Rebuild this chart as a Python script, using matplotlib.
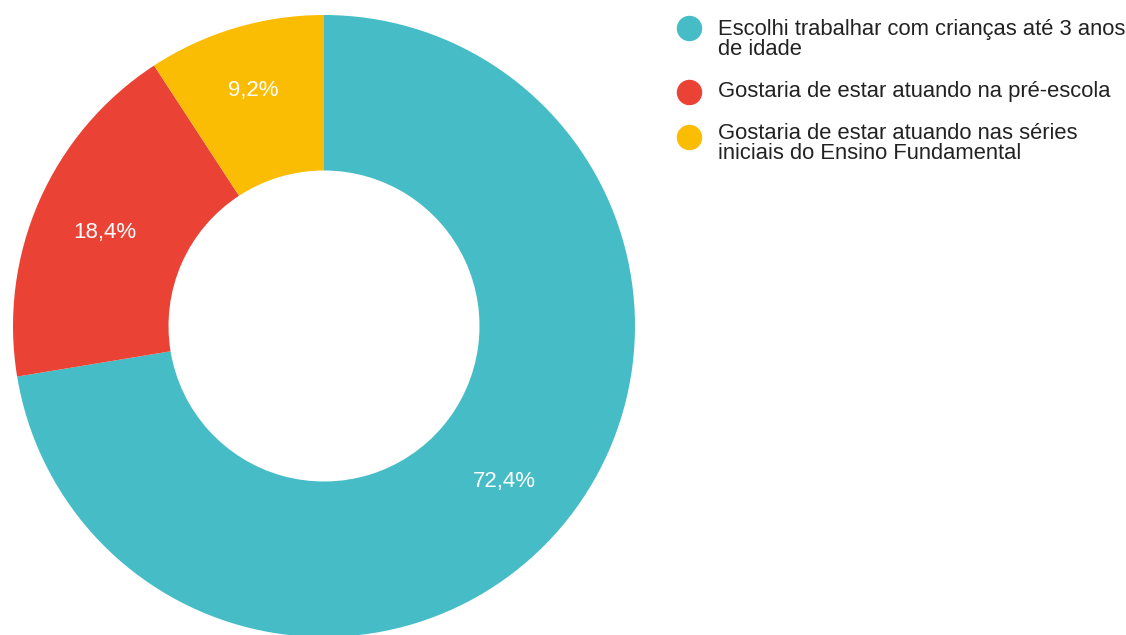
import matplotlib
matplotlib.use("Agg")
import numpy as np
import matplotlib.pyplot as plt

plt.rcParams['font.family'] = ['Liberation Sans', 'DejaVu Sans']

labels = [
    "Escolhi trabalhar com crianças até 3 anos\nde idade",
    "Gostaria de estar atuando na pré-escola",
    "Gostaria de estar atuando nas séries\niniciais do Ensino Fundamental",
]
values = [72.4, 18.4, 9.2]
colors = ["#46BDC6", "#EA4335", "#FBBC04"]

W, H = 1126, 635
fig = plt.figure(figsize=(W / 100, H / 100), dpi=100)
ax = fig.add_axes([0, 0, 1, 1])

# donut in pixel-like data units (y grows upward)
cx, cy, R = 324, H - 326, 311
wedges, texts, autotexts = ax.pie(
    values,
    colors=colors,
    startangle=90,
    counterclock=False,
    radius=R,
    center=(cx, cy),
    autopct=lambda p: f"{p:.1f}%".replace(".", ","),
    pctdistance=0.765,
    wedgeprops=dict(width=R * 0.5, edgecolor="none"),
    textprops=dict(color="white", fontsize=16),
    frame=True,
)
# the narrow slice gets its label pushed a little further out
label_dist = [0.76, 0.77, 0.80]
for w, t, d in zip(wedges, autotexts, label_dist):
    ang = np.deg2rad((w.theta1 + w.theta2) / 2)
    t.set_position((cx + d * R * np.cos(ang), cy + d * R * np.sin(ang) - 3))

ax.set_xlim(0, W)
ax.set_ylim(0, H)
ax.axis("off")

# legend (text anchored on the baseline of each entry's last line)
marker_x, text_x = 689, 718
rows_y = [28, 92, 137]
baselines = [55, 97, 159]
for lab, col, y, b in zip(labels, colors, rows_y, baselines):
    ax.scatter([marker_x], [H - y], s=24 ** 2 * 0.52, color=col, zorder=3)
    ax.text(text_x, H - b, lab, fontsize=15.8, color="#222222",
            va="baseline", ha="left", linespacing=0.92)

fig.savefig("out.png", dpi=100)
